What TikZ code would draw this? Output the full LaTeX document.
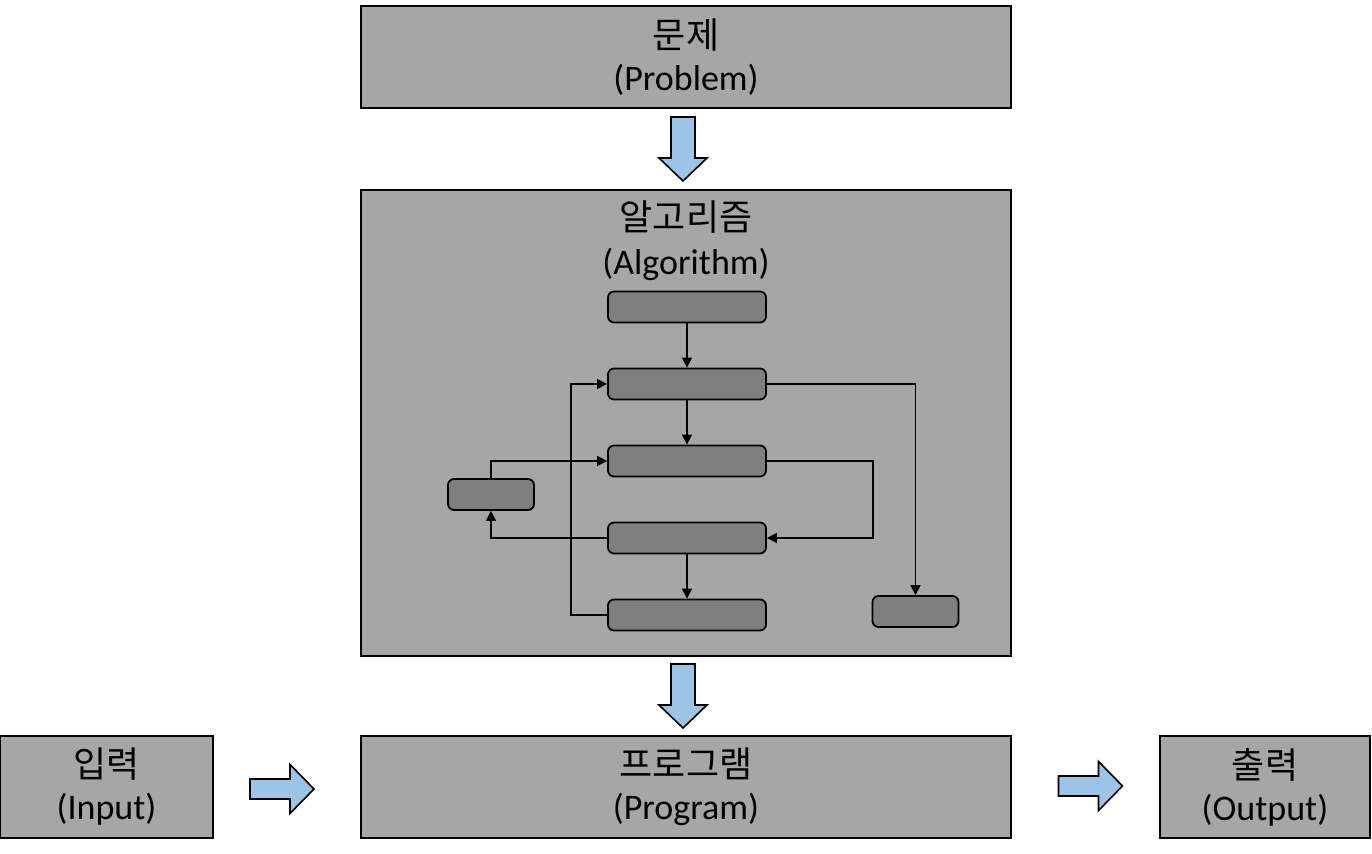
\documentclass[tikz,border=0pt]{standalone}
\usepackage{fontspec}
\setmainfont{Carlito}
\newfontfamily\kr{Noto Sans CJK KR}
\usetikzlibrary{arrows.meta,calc}

\definecolor{boxgray}{HTML}{A6A6A6}
\definecolor{stepgray}{HTML}{7F7F7F}
\definecolor{arrowblue}{HTML}{9DC3E6}

\tikzset{
  bigbox/.style={draw=black, line width=1pt, fill=boxgray, minimum height=51pt,
                 align=center, font=\fontsize{18}{21}\selectfont, inner sep=0pt},
  stepbox/.style={draw=black, line width=0.9pt, fill=stepgray, rounded corners=3pt,
                  minimum width=79pt, minimum height=15.5pt, inner sep=0pt},
  smallbox/.style={stepbox, minimum width=43pt},
  flow/.style={line width=0.75pt, -{Triangle[length=5pt,width=5pt]}},
  blockarrow/.style={draw=black, line width=0.8pt, fill=arrowblue},
}

\begin{document}
\begin{tikzpicture}[x=0.5pt,y=-0.5pt]
    \useasboundingbox (0,0) rectangle (1372,854);

% Boites principales
    \node[bigbox, minimum width=325pt] (problem) at (686,57) {{\kr 문제}\\(Problem)};
    \node[bigbox, minimum width=325pt, minimum height=233pt] (algo) at (686,423) {};
    \node[align=center, font=\fontsize{18}{22}\selectfont, inner sep=0pt] (algotitle) at (686,241) {{\kr 알고리즘}\\(Algorithm)};
    \node[bigbox, minimum width=325pt] (program) at (686,787) {{\kr 프로그램}\\(Program)};
    \node[bigbox, minimum width=106.5pt] (input) at (106.5,787) {{\kr 입력}\\(Input)};
    \node[bigbox, minimum width=105pt] (output) at (1265,787) {{\kr 출력}\\(Output)};

% Organigramme dans l'algorithme
    \node[stepbox] (s1) at (687,307) {};
    \node[stepbox] (s2) at (687,384) {};
    \node[stepbox] (s3) at (687,461) {};
    \node[stepbox] (s4) at (687,538) {};
    \node[stepbox] (s5) at (687,615) {};
    \node[smallbox] (left) at (491,494.5) {};
    \node[smallbox] (end) at (915.5,611.5) {};

    \draw[flow] (s1) -- (s2);
    \draw[flow] (s2) -- (s3);
    \draw[flow] (s4) -- (s5);
    \draw[flow] (s5.west) -- ++(-36,0) |- (s2.west);
    \draw[flow] (left.north) |- (s3.west);
    \draw[flow] (s4.west) -| (left.south);
    \draw[flow] (s3.east) -- ++(106,0) |- (s4.east);
    \draw[flow] (s2.east) -| (end.north);

% Fleches pleines: centre
    \def\dnArrow#1{
        \draw[blockarrow] (#1) ++(-12,-32) -- ++(24,0) -- ++(0,41) -- ++(12,0)
            -- ++(-24,23) -- ++(-24,-23) -- ++(12,0) -- cycle;
    }
    \def\rtArrow#1{
        \draw[blockarrow] (#1) ++(-32,-10) -- ++(40,0) -- ++(0,-14.5) -- ++(24,24.5)
            -- ++(-24,24.5) -- ++(0,-14.5) -- ++(-40,0) -- cycle;
    }

    \coordinate (d1) at ($(problem.south)!0.5!(algo.north)+(-3,0)$);
    \coordinate (d2) at ($(algo.south)!0.5!(program.north)+(-3,0)$);
    \coordinate (r1) at ($(input.east)!0.5!(program.west)+(-5,2)$);
    \coordinate (r2) at ($(program.east)!0.5!(output.west)+(5,-1)$);

    \dnArrow{d1};
    \dnArrow{d2};
    \rtArrow{r1};
    \rtArrow{r2};

\end{tikzpicture}
\end{document}
